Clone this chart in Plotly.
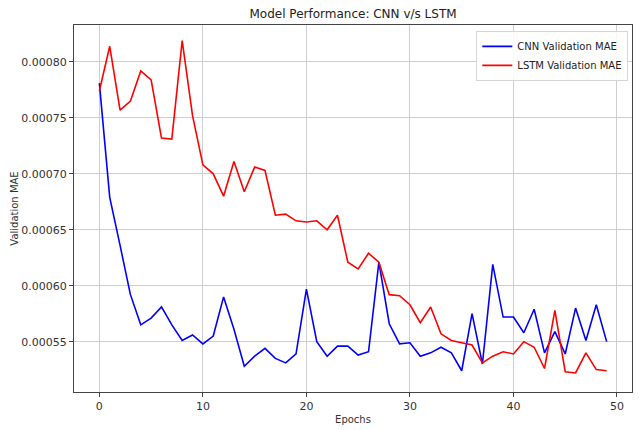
import plotly.graph_objects as go

epochs = list(range(50))

cnn_val_mae = [
    0.000781, 0.000679, 0.000636, 0.000592, 0.000565, 0.000571, 0.000581, 0.000565, 0.000551, 0.000556,
    0.000548, 0.000555, 0.000590, 0.000561, 0.000528, 0.000537, 0.000544, 0.000535, 0.000531, 0.000539,
    0.000597, 0.000550, 0.000537, 0.000546, 0.000546, 0.000538, 0.000541, 0.000621, 0.000566, 0.000548,
    0.000549, 0.000537, 0.000540, 0.000545, 0.000540, 0.000524, 0.000575, 0.000530, 0.000619, 0.000572,
    0.000572, 0.000558, 0.000579, 0.000540, 0.000559, 0.000539, 0.000580, 0.000551, 0.000583, 0.000550,
]

lstm_val_mae = [
    0.000774, 0.000814, 0.000757, 0.000765, 0.000792, 0.000784, 0.000732, 0.000731, 0.000819, 0.000752,
    0.000708, 0.000700, 0.000680, 0.000711, 0.000684, 0.000706, 0.000703, 0.000663, 0.000664, 0.000658,
    0.000657, 0.000658, 0.000650, 0.000663, 0.000621, 0.000615, 0.000629, 0.000621, 0.000592, 0.000591,
    0.000583, 0.000567, 0.000581, 0.000557, 0.000551, 0.000549, 0.000547, 0.000531, 0.000537, 0.000541,
    0.000539, 0.000550, 0.000545, 0.000526, 0.000578, 0.000523, 0.000522, 0.000540, 0.000525, 0.000524,
]

y_ticks = [0.00055, 0.00060, 0.00065, 0.00070, 0.00075, 0.00080]
x_ticks = [0, 10, 20, 30, 40, 50]

font = "DejaVu Sans"

fig = go.Figure()
fig.add_trace(go.Scatter(x=epochs, y=cnn_val_mae, mode='lines',
                         name='CNN Validation MAE',
                         line=dict(color='blue', width=1.6)))
fig.add_trace(go.Scatter(x=epochs, y=lstm_val_mae, mode='lines',
                         name='LSTM Validation MAE',
                         line=dict(color='red', width=1.6)))

fig.update_xaxes(range=[-2.45, 51.45], tickvals=x_ticks,
                 showgrid=True, gridcolor='#cfcfcf', gridwidth=1, zeroline=False,
                 showline=True, linecolor='#444444', linewidth=1, mirror=True,
                 ticks='outside', ticklen=4, tickcolor='#444444',
                 tickfont=dict(size=11, color='#333333'),
                 title=dict(text='Epochs', font=dict(size=10, color='#333333'), standoff=3))
fig.update_yaxes(range=[0.000505, 0.000833], tickvals=y_ticks, tickformat='.5f',
                 showgrid=True, gridcolor='#cfcfcf', gridwidth=1, zeroline=False,
                 showline=True, linecolor='#444444', linewidth=1, mirror=True,
                 ticks='outside', ticklen=4, tickcolor='#444444',
                 tickfont=dict(size=11, color='#333333'),
                 title=dict(text='Validation MAE', font=dict(size=10, color='#333333'), standoff=0))

fig.update_layout(
    width=639,
    height=430,
    font=dict(family=font, color='#333333'),
    paper_bgcolor='white',
    plot_bgcolor='white',
    title=dict(text='Model Performance: CNN v/s LSTM', x=0.5525, xanchor='center',
               y=0.968, yanchor='middle', font=dict(size=12, color='#222222')),
    margin=dict(l=74, r=7, t=25, b=38, autoexpand=False),
    showlegend=True,
    legend=dict(x=0.9934, y=0.984, xanchor='right', yanchor='top', itemwidth=30,
                bgcolor='rgba(255,255,255,0.85)', bordercolor='#d6d6d6', borderwidth=1,
                font=dict(size=10, color='#222222'), tracegroupgap=0),
)

# page body has a default 8px margin; drop it so the figure sits at the top-left corner
fig.write_html("out.html", config={'displayModeBar': False},
               post_script="document.body.style.margin='0';")
